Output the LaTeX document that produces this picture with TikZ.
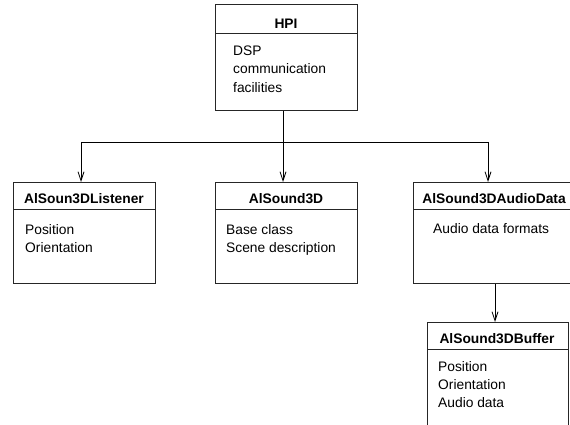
\documentclass[tikz,border=0pt]{standalone}
\usepackage{fontspec}
\setmainfont{Liberation Sans}
\usetikzlibrary{arrows.meta}
\begin{document}
\begin{tikzpicture}[x=1pt,y=-1pt,
  box/.style={draw=black!85, line width=0.9pt, fill=white, inner sep=0pt, anchor=north west},
  ttl/.style={font=\fontsize{13.8}{16}\selectfont\bfseries, inner sep=0pt, anchor=base},
  txt/.style={font=\fontsize{13.8}{16}\selectfont, inner sep=0pt, anchor=base west},
  sep/.style={draw=black!85, line width=0.9pt},
  link/.style={draw=black, line width=0.8pt},
  arr/.style={link, -{Straight Barb[length=9pt, width=6pt, line width=0.8pt]}}]
\useasboundingbox (0,0) rectangle (570,425);
\clip (0,0) rectangle (570,425);

% class boxes
\node[box, minimum width=142pt, minimum height=106pt] (hpi) at (215,4) {};
\node[box, minimum width=142pt, minimum height=101pt] (listener) at (13,182) {};
\node[box, minimum width=142pt, minimum height=101pt] (sound) at (215,182) {};
\node[box, minimum width=162pt, minimum height=101pt] (audio) at (413,182) {};
\node[box, minimum width=141pt, minimum height=113pt] (buffer) at (427,322) {};

% header separators
\draw[sep] ([yshift=-29pt]hpi.north west) -- ([yshift=-29pt]hpi.north east);
\draw[sep] ([yshift=-27pt]listener.north west) -- ([yshift=-27pt]listener.north east);
\draw[sep] ([yshift=-27pt]sound.north west) -- ([yshift=-27pt]sound.north east);
\draw[sep] ([yshift=-27pt]audio.north west) -- ([yshift=-27pt]audio.north east);
\draw[sep] ([yshift=-27pt]buffer.north west) -- ([yshift=-27pt]buffer.north east);

% HPI
\node[ttl] (hpi-t) at (286,29) {HPI};
\node[txt] (hpi-1) at (233,56) {DSP};
\node[txt] (hpi-2) at (233,74) {communication};
\node[txt] (hpi-3) at (233,92.5) {facilities};

% AlSoun3DListener
\node[ttl] (listener-t) at (84,203.5) {AlSoun3DListener};
\node[txt] (listener-1) at (25,234) {Position};
\node[txt] (listener-2) at (25,252) {Orientation};

% AlSound3D
\node[ttl] (sound-t) at (286,203.5) {AlSound3D};
\node[txt] (sound-1) at (226,234) {Base class};
\node[txt] (sound-2) at (226,252) {Scene description};

% AlSound3DAudioData
\node[ttl] (audio-t) at (494,203.5) {AlSound3DAudioData};
\node[txt] (audio-1) at (433,233) {Audio data formats};

% AlSound3DBuffer
\node[ttl] (buffer-t) at (497,343) {AlSound3DBuffer};
\node[txt] (buffer-1) at (438,371) {Position};
\node[txt] (buffer-2) at (438,389) {Orientation};
\node[txt] (buffer-3) at (438,407) {Audio data};

% connectors
\coordinate (bus) at (283,142);
\coordinate (bus-l) at (81,142);
\coordinate (bus-r) at (488,142);
\draw[link] (bus |- hpi.south) -- (bus);
\draw[link] (bus-l) -- (bus-r);
\draw[arr] (bus-l) -- (bus-l |- listener.north);
\draw[arr] (bus) -- (bus |- sound.north);
\draw[arr] (bus-r) -- (bus-r |- audio.north);
\coordinate (down) at (495,283);
\draw[arr] (down |- audio.south) -- (down |- buffer.north);
\end{tikzpicture}
\end{document}
